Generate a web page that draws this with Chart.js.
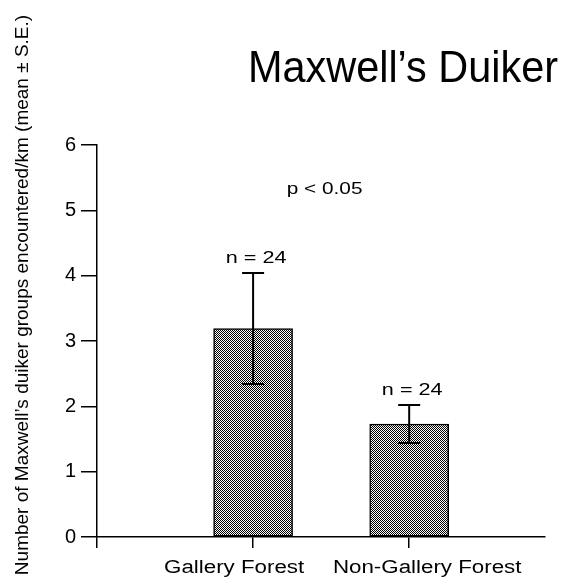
<!DOCTYPE html>
<html>
<head>
<meta charset="utf-8">
<script src="https://cdn.jsdelivr.net/npm/chart.js@4/dist/chart.umd.min.js"></script>
<style>
  html, body { margin: 0; padding: 0; background: #fff; }
</style>
</head>
<body>
<canvas id="mycanvas" width="566" height="584"></canvas>
<script>
var categories = ['Gallery Forest', 'Non-Gallery Forest'];
var means = [3.19, 1.73];
var stdErrors = [0.85, 0.29];
var sampleSizes = [24, 24];
var yTicks = [0, 1, 2, 3, 4, 5, 6];
var chartTitle = 'Maxwell\u2019s Duiker';
var yTitle = 'Number of Maxwell\u2019s duiker groups encountered/km (mean \u00b1 S.E.)';
var pText = 'p < 0.05';

var FONT = "'Liberation Sans', Arial, Helvetica, sans-serif";

var canvas = document.getElementById('mycanvas');
var ctx = canvas.getContext('2d');

// fine black/white checker like the original hatch
var tile = document.createElement('canvas');
tile.width = 2; tile.height = 2;
var tctx = tile.getContext('2d');
tctx.fillStyle = '#fff'; tctx.fillRect(0, 0, 2, 2);
tctx.fillStyle = '#000'; tctx.fillRect(0, 0, 1, 1); tctx.fillRect(1, 1, 1, 1);
var checker = ctx.createPattern(tile, 'repeat');

function wideText(c, text, x, y, size, stretch) {
	c.save();
	c.translate(x, y);
	c.scale(stretch, 1);
	c.font = size + 'px ' + FONT;
	c.textAlign = 'center';
	c.textBaseline = 'alphabetic';
	c.fillText(text, 0, 0);
	c.restore();
}

var extras = {
	id: 'extras',
	afterDatasetsDraw: function(chart) {
		var c = chart.ctx;
		var xs = chart.scales.x, ys = chart.scales.y;
		c.save();
		c.fillStyle = '#000';
		c.strokeStyle = '#000';
		c.lineWidth = 2;

		// error bars + n labels
		for (var i = 0; i < means.length; i++) {
			var px = xs.getPixelForValue(i + 1);
			var top = ys.getPixelForValue(means[i] + stdErrors[i]);
			var bot = ys.getPixelForValue(means[i] - stdErrors[i]);
			c.beginPath();
			c.moveTo(px, top); c.lineTo(px, bot);
			c.moveTo(px - 11, top); c.lineTo(px + 11, top);
			c.moveTo(px - 11, bot); c.lineTo(px + 11, bot);
			c.stroke();
			wideText(c, 'n = ' + sampleSizes[i], px + 3, top - 10, 16, 1.35);
		}

		// category labels (offset from the tick like the original)
		var labelShift = [-19, 18];
		for (var j = 0; j < categories.length; j++) {
			wideText(c, categories[j], xs.getPixelForValue(j + 1) + labelShift[j], 573, 18, 1.24);
		}

		// significance note
		wideText(c, pText, xs.getPixelForValue(1.458), ys.getPixelForValue(5.25), 16, 1.3);

		// title
		c.font = '45px ' + FONT;
		c.textAlign = 'center';
		c.textBaseline = 'alphabetic';
		c.fillText(chartTitle, 403, 82, 310);

		// y axis title
		c.save();
		c.translate(28, 295);
		c.rotate(-Math.PI / 2);
		c.font = '19px ' + FONT;
		c.fillText(yTitle, 0, 0, 564);
		c.restore();

		c.restore();
	}
};

var chartdata = {
	datasets: [{
		label: 'mean',
		data: means.map(function(v, i) { return { x: i + 1, y: v }; }),
		backgroundColor: checker,
		borderColor: '#000',
		borderWidth: 1.5,
		borderSkipped: false,
		barThickness: 79
	}]
};

var barGraph = new Chart(ctx, {
	type: 'bar',
	data: chartdata,
	plugins: [extras],
	options: {
		responsive: false,
		animation: false,
		layout: { padding: { top: 145, right: 21, bottom: 0, left: 0 } },
		plugins: {
			legend: { display: false },
			tooltip: { enabled: false },
			title: { display: false }
		},
		scales: {
			x: {
				type: 'linear',
				min: 0,
				max: 2.87,
				offset: false,
				afterBuildTicks: function(axis) {
					axis.ticks = [0, 1, 2].map(function(v) { return { value: v }; });
				},
				afterFit: function(axis) { axis.height = 47; },
				grid: { offset: false, drawOnChartArea: false, tickLength: 11, color: '#000', lineWidth: 1.5 },
				border: { color: '#000', width: 1.5 },
				ticks: {
					color: 'rgba(0,0,0,0)',
					callback: function(v) { return v > 0 ? categories[v - 1] : ''; }
				}
			},
			y: {
				min: 0,
				max: 6,
				afterBuildTicks: function(axis) {
					axis.ticks = yTicks.map(function(v) { return { value: v }; });
				},
				afterFit: function(axis) { axis.width = 97; },
				grid: { drawOnChartArea: false, tickLength: 16, color: '#000', lineWidth: 1.5 },
				border: { color: '#000', width: 1.5 },
				ticks: { color: '#000', padding: 5, font: { family: FONT, size: 20 } }
			}
		}
	}
});
</script>
</body>
</html>
